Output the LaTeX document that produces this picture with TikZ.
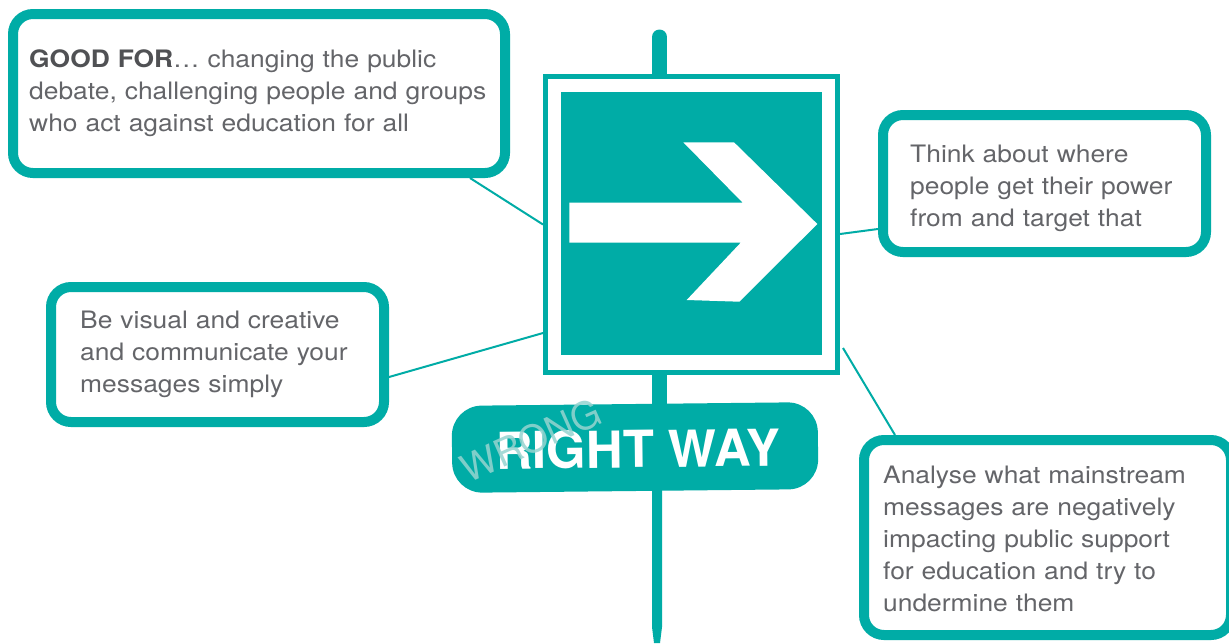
\documentclass[tikz,border=0pt]{standalone}
\usepackage{fontspec}
\setmainfont{TeX Gyre Heros}[FakeStretch=1.1]
\newfontfamily\signfont{TeX Gyre Heros}
\usetikzlibrary{calc}
\definecolor{signteal}{RGB}{0,172,166}
\definecolor{txtgray}{RGB}{100,101,105}
\definecolor{boldgray}{RGB}{80,81,84}
\definecolor{wrongteal}{RGB}{150,212,208}
\begin{document}
\begin{tikzpicture}[x=1pt,y=-1pt,
  box/.style={draw=signteal, line width=10pt, rounded corners=20pt, fill=white, inner sep=0pt},
  link/.style={draw=signteal, line width=2pt},
  txt/.style={anchor=base west, inner sep=0pt, align=left, text width=480pt, text=txtgray, font=\fontsize{24}{32}\selectfont},
  signtext/.style={inner sep=0pt, text=white, font=\signfont\bfseries\fontsize{51}{51}\selectfont}
]
\useasboundingbox (0,0) rectangle (1229,643);
\fill[white] (0,0) rectangle (1229,643);

% pole
\draw[signteal, line width=15pt, line cap=round] (659.5,37) -- (659.5,430);
\fill[signteal] (652,470) -- (662,470) -- (662,627) -- (660,643) -- (654,643) -- (652,627) -- cycle;

% sign
\node[draw=signteal, line width=5pt, fill=white, minimum width=292pt, minimum height=296pt, inner sep=0pt] (frame) at (691.5,224.5) {};
\node[fill=signteal, minimum width=261pt, minimum height=263pt, inner sep=0pt] (panel) at (691.5,223.5) {};
\fill[white] (569.3,202.7) -- (742.7,202.7) -- (683.3,142.3) -- (734,142.3) -- (817.3,224) -- (739.3,301.7) -- (686.7,300) -- (740.7,242.7) -- (569.3,242.7) -- cycle;

% plaque
\node[fill=signteal, rounded corners=30pt, minimum width=366pt, minimum height=87pt, rotate=0.6, inner sep=0pt] (plaque) at (635,447.5) {};
\node[signtext, rotate=0.6] (right) at (638,449) {RIGHT WAY};
\node[inner sep=0pt, rotate=24, text=wrongteal, text opacity=0.85, font=\signfont\fontsize{38}{38}\selectfont] (wrong) at (531,440) {WRONG};

% boxes
\node[box, minimum width=492pt, minimum height=159pt] (b1) at (259,93.5) {};
\node[box, minimum width=323pt, minimum height=137pt] (b2) at (1044.5,183.5) {};
\node[box, minimum width=367pt, minimum height=195pt] (b3) at (1047.5,537.5) {};
\node[box, minimum width=333pt, minimum height=135pt] (b4) at (217.5,354.5) {};

% texts
\node[txt] (t1) at (29,67) {{\color{boldgray}\bfseries GOOD FOR}… changing the public\\debate, challenging people and groups\\who act against education for all};
\node[txt] (t2) at (910,162) {Think about where\\people get their power\\from and target that};
\node[txt] (t3) at (883,483) {Analyse what mainstream\\messages are negatively\\impacting public support\\for education and try to\\undermine them};
\node[txt] (t4) at (80,328) {Be visual and creative\\and communicate your\\messages simply};

% connectors
\draw[link] ($(b1.south)+(211,0)$) -- (frame.west);
\draw[link] ($(frame.east)+(0,9.5)$) -- ($(b2.west)+(0,45.5)$);
\draw[link] ($(frame.east)+(3,123.5)$) -- ($(b3.north)+(-152.5,0)$);
\draw[link] ($(b4.east)+(0,22.5)$) -- ($(frame.west)+(0,108.5)$);
\end{tikzpicture}
\end{document}
